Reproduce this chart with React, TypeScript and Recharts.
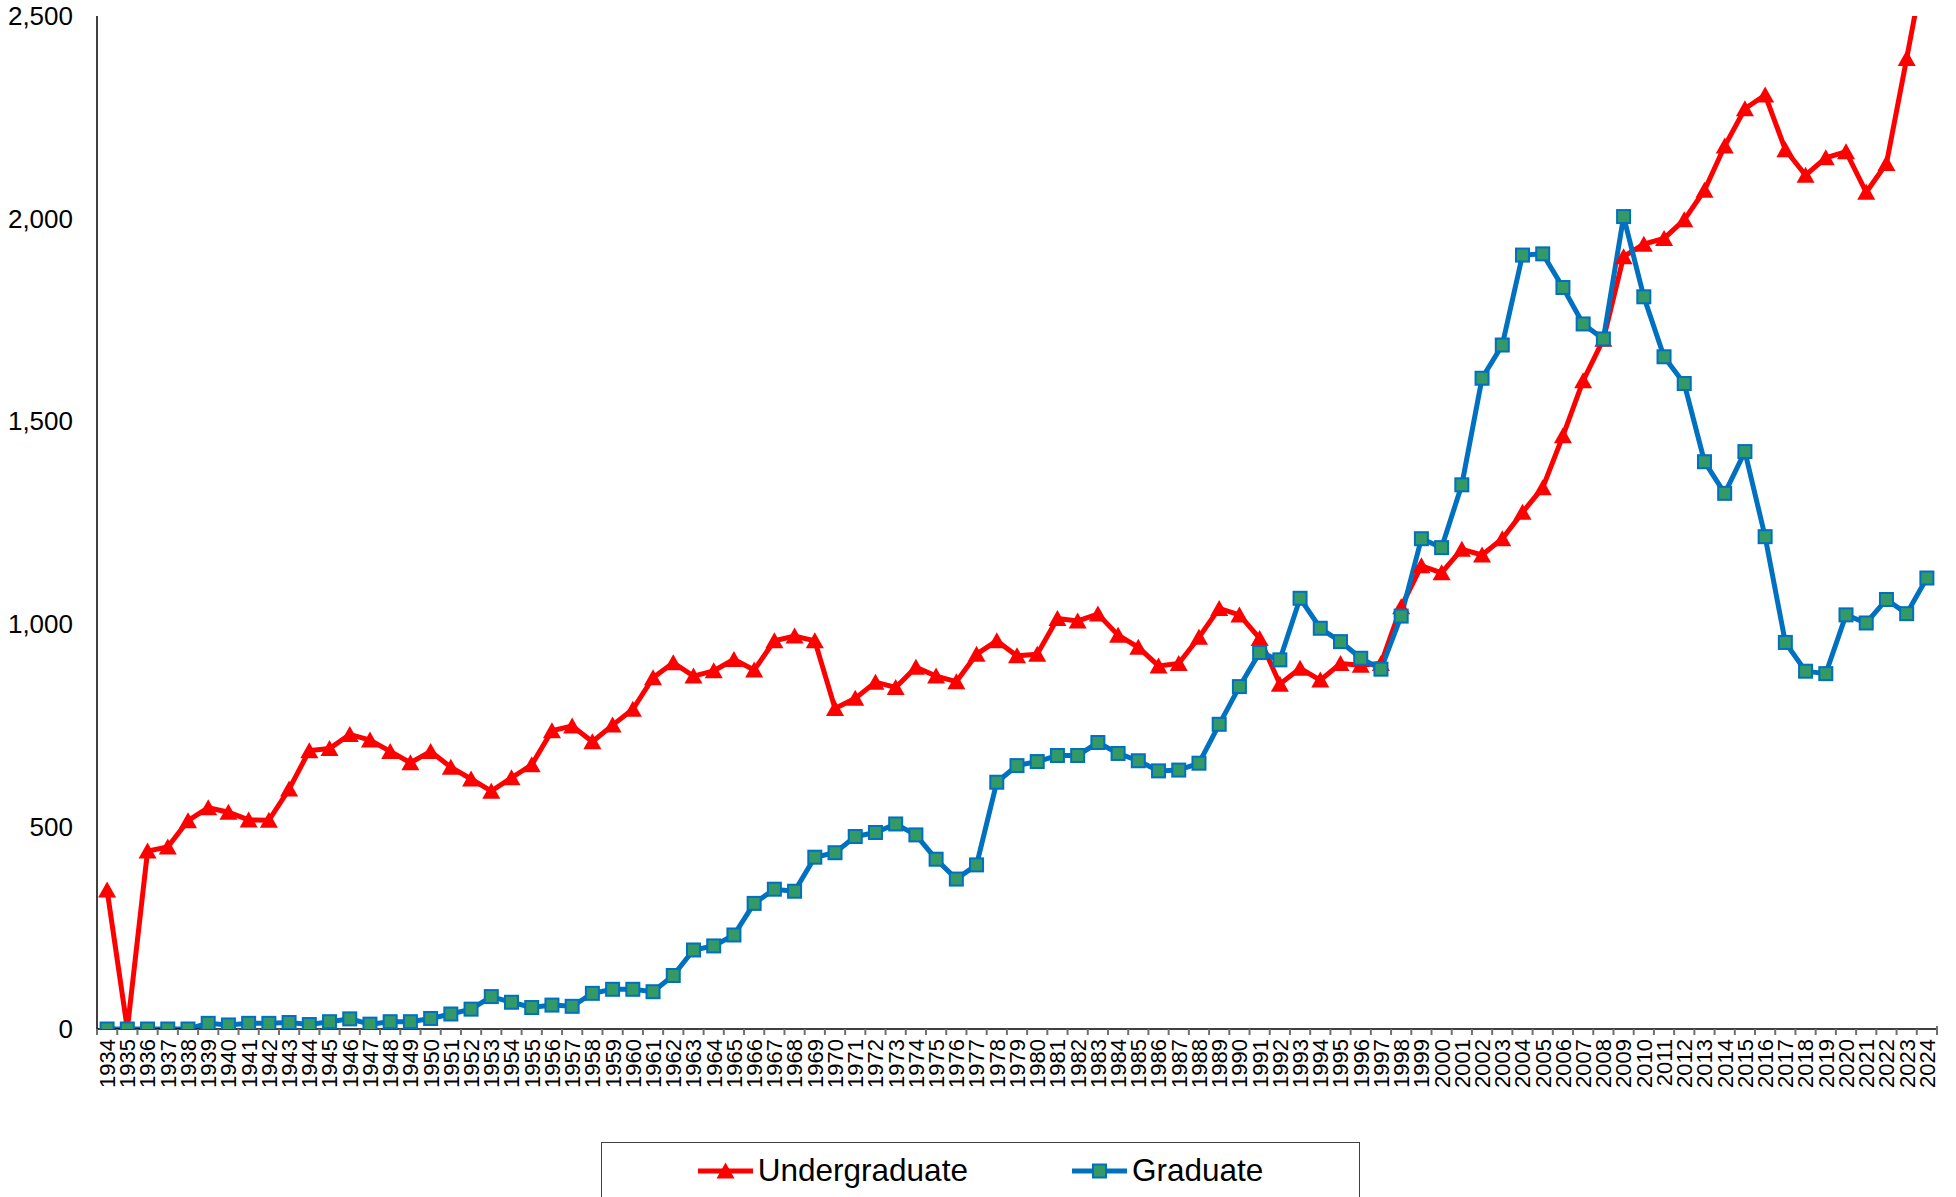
import React from 'react';
import { LineChart, Line, XAxis, YAxis, Legend } from 'recharts';

// fiscal years on the category axis
const years = [
  '1934', '1935', '1936', '1937', '1938', '1939', '1940', '1941', '1942', '1943',
  '1944', '1945', '1946', '1947', '1948', '1949', '1950', '1951', '1952', '1953',
  '1954', '1955', '1956', '1957', '1958', '1959', '1960', '1961', '1962', '1963',
  '1964', '1965', '1966', '1967', '1968', '1969', '1970', '1971', '1972', '1973',
  '1974', '1975', '1976', '1977', '1978', '1979', '1980', '1981', '1982', '1983',
  '1984', '1985', '1986', '1987', '1988', '1989', '1990', '1991', '1992', '1993',
  '1994', '1995', '1996', '1997', '1998', '1999', '2000', '2001', '2002', '2003',
  '2004', '2005', '2006', '2007', '2008', '2009', '2010', '2011', '2012', '2013',
  '2014', '2015', '2016', '2017', '2018', '2019', '2020', '2021', '2022', '2023',
  '2024',
];

const undergraduate = [
  343, 0, 439, 449, 514, 546, 535, 516, 515, 592,
  687, 692, 727, 713, 685, 657, 685, 646, 617, 587,
  620, 652, 736, 748, 709, 750, 789, 867, 904, 871,
  884, 912, 886, 958, 970, 958, 791, 816, 856, 843,
  893, 871, 857, 925, 958, 921, 925, 1013, 1007, 1024,
  972, 942, 896, 902, 967, 1038, 1022, 964, 851, 890,
  861, 902, 898, 902, 1042, 1143, 1126, 1184, 1170, 1210,
  1275, 1336, 1464, 1600, 1702, 1906, 1937, 1951, 1997, 2070,
  2179, 2271, 2305, 2170, 2107, 2150, 2165, 2065, 2136, 2395,
  2660,
];

const graduate = [
  0, 0, 0, 0, 0, 14, 10, 14, 14, 16,
  11, 18, 25, 12, 18, 18, 26, 37, 49, 80,
  66, 53, 59, 56, 88, 98, 98, 92, 132, 195,
  205, 232, 310, 345, 340, 424, 435, 475, 485, 506,
  479, 419, 370, 405, 609, 650, 660, 675, 675, 707,
  680, 662, 637, 639, 656, 752, 845, 929, 911, 1063,
  989, 956, 915, 888, 1019, 1210, 1188, 1343, 1606, 1688,
  1910, 1913, 1830, 1740, 1703, 2005, 1807, 1659, 1593, 1400,
  1322, 1425, 1215, 954, 883, 877, 1022, 1002, 1060, 1025,
  1113,
];

const yTicks = [0, 500, 1000, 1500, 2000, 2500];

const data = years.map((year, i) => ({
  year,
  undergraduate: undergraduate[i],
  graduate: graduate[i],
}));

const W = 1956;
const H = 1197;
const Y_AXIS_W = 97;
const MARGIN = { top: 16, right: 19, left: 0, bottom: 100 };
const BAND = (W - MARGIN.right - MARGIN.left - Y_AXIS_W) / years.length;
const LABEL_GAP = 10;
const FONT = '"Liberation Sans", Arial, Helvetica, sans-serif';
const RED = '#FF0000';
const BLUE = '#0070C0';
const GREEN = '#339966';

const Triangle = (props: any) => {
  const { cx, cy, index } = props;
  if (cx == null || cy == null) return <g key={index} />;
  return (
    <path
      key={index}
      d={`M${cx},${cy - 8.5} L${cx + 9},${cy + 7.5} L${cx - 9},${cy + 7.5} Z`}
      fill={RED}
    />
  );
};

const Square = (props: any) => {
  const { cx, cy, index } = props;
  if (cx == null || cy == null) return <g key={index} />;
  return (
    <rect
      key={index}
      x={cx - 6.5}
      y={cy - 6.5}
      width={13}
      height={13}
      fill={GREEN}
      stroke={BLUE}
      strokeWidth={2}
    />
  );
};

// year label rotated, grey tick marks sit between the categories
const XTick = (props: any) => {
  const { x, y, payload, index } = props;
  const axisY = y - LABEL_GAP;
  const last = index === years.length - 1;
  return (
    <g>
      <line x1={x - BAND / 2} y1={axisY} x2={x - BAND / 2} y2={axisY + 6} stroke="#707070" strokeWidth={2} />
      {last && (
        <line x1={x + BAND / 2} y1={axisY - 3} x2={x + BAND / 2} y2={axisY + 6} stroke="#707070" strokeWidth={2} />
      )}
      <text
        x={x}
        y={y}
        transform={`rotate(-90, ${x}, ${y})`}
        textAnchor="end"
        dy="0.36em"
        fontSize={22}
        fontFamily={FONT}
        fill="#000"
      >
        {payload.value}
      </text>
    </g>
  );
};

const LegendBox = () => (
  <div
    style={{
      boxSizing: 'border-box',
      width: 759,
      height: 70,
      border: '1px solid #404040',
      display: 'flex',
      justifyContent: 'center',
      alignItems: 'flex-start',
      paddingTop: 9,
      fontFamily: FONT,
      fontSize: 31.5,
      color: '#000',
      background: '#fff',
    }}
  >
    <span style={{ display: 'flex', alignItems: 'center' }}>
      <svg width={55} height={22}>
        <line x1={0} y1={11} x2={55} y2={11} stroke={RED} strokeWidth={5} />
        <path d="M27.5,2.5 L36.5,18.5 L18.5,18.5 Z" fill={RED} />
      </svg>
      <span style={{ marginLeft: 5 }}>Undergraduate</span>
    </span>
    <span style={{ display: 'flex', alignItems: 'center', marginLeft: 104 }}>
      <svg width={55} height={22}>
        <line x1={0} y1={11} x2={55} y2={11} stroke={BLUE} strokeWidth={5} />
        <rect x={21} y={4.5} width={13} height={13} fill={GREEN} stroke={BLUE} strokeWidth={2} />
      </svg>
      <span style={{ marginLeft: 5 }}>Graduate</span>
    </span>
  </div>
);

export default function App() {
  return (
    <div style={{ position: 'absolute', left: 0, top: 0, width: W, height: H, overflow: 'hidden', background: '#fff' }}>
      <LineChart width={W} height={H} data={data} margin={MARGIN}>
        <XAxis
          dataKey="year"
          interval={0}
          height={68}
          padding={{ left: BAND / 2, right: BAND / 2 }}
          tickLine={false}
          tickSize={0}
          tickMargin={LABEL_GAP}
          axisLine={{ stroke: '#000', strokeWidth: 1.5 }}
          tick={(p: any) => <XTick {...p} />}
        />
        <YAxis
          domain={[0, 2500]}
          ticks={yTicks}
          allowDataOverflow
          width={Y_AXIS_W}
          tickLine={false}
          tickMargin={18}
          axisLine={{ stroke: '#000', strokeWidth: 1.5 }}
          tick={{ fontSize: 26, fill: '#000', fontFamily: FONT }}
          tickFormatter={(v: number) => v.toLocaleString('en-US')}
        />
        <Legend
          layout="horizontal"
          verticalAlign="middle"
          align="center"
          wrapperStyle={{ top: 1142, left: 601, width: 759, height: 70 }}
          content={() => <LegendBox />}
        />
        <Line
          type="linear"
          dataKey="undergraduate"
          name="Undergraduate"
          stroke={RED}
          strokeWidth={5}
          dot={Triangle}
          activeDot={false}
          isAnimationActive={false}
        />
        <Line
          type="linear"
          dataKey="graduate"
          name="Graduate"
          stroke={BLUE}
          strokeWidth={5}
          dot={Square}
          activeDot={false}
          isAnimationActive={false}
        />
      </LineChart>
    </div>
  );
}
